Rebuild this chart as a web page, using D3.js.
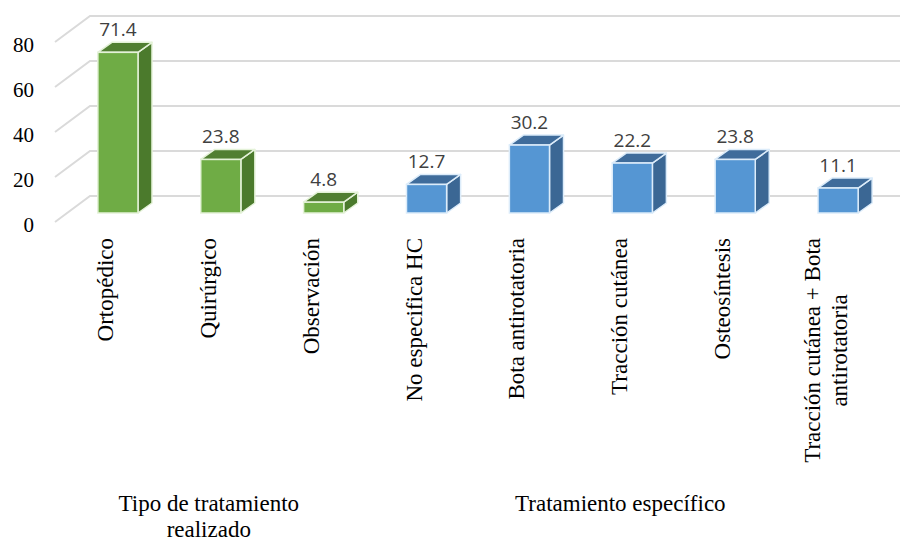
<!DOCTYPE html>
<html>
<head>
<meta charset="utf-8">
<script src="https://cdn.jsdelivr.net/npm/d3@7/dist/d3.min.js"></script>
</head>
<body style="margin:0; background:#fff">
<div class="chart"></div>
<script>
// 3D column chart: tratamiento

var svgWidth = 901;
var svgHeight = 542;

// data
var categories = ["Ortopédico", "Quirúrgico", "Observación", "No especifica HC",
  "Bota antirotatoria", "Tracción cutánea", "Osteosíntesis",
  "Tracción cutánea + Bota antirotatoria"];
var values = [71.4, 23.8, 4.8, 12.7, 30.2, 22.2, 23.8, 11.1];
var categoryGroup = [0, 0, 0, 1, 1, 1, 1, 1];
var groupLabels = [["Tipo de tratamiento", "realizado"], ["Tratamiento específico"]];
var yTicks = [0, 20, 40, 60, 80];

var serif = "'Liberation Serif'";
var sans = "'Open Sans'";

// colours per group: front, side, top, edge
var palette = [
  { front: "#6fac45", side: "#4b7a2c", top: "#517f32", edge: "#e4f2d8" },
  { front: "#5596d3", side: "#3b6794", top: "#3f6c9b", edge: "#dcecfa" }
];

// depth of the 3D floor (front -> back wall)
var wallDx = 35, wallDy = -26;
// bar depth
var barDx = 14, barDy = -10;
var barInset = 9; // bar front sits a bit behind the front edge

var svg = d3.select("body")
  .append("svg")
  .attr("width", svgWidth)
  .attr("height", svgHeight);

var x = d3.scaleBand()
  .domain(categories)
  .range([67, 889])
  .paddingInner(0.61)
  .paddingOuter(0.3);

var y = d3.scaleLinear()
  .domain([0, 80])
  .range([222, 42]);

// gridlines: side wall slant + back wall horizontal
var grid = svg.append("g");
yTicks.forEach(function(t) {
  var yf = y(t);
  grid.append("path")
    .attr("d", "M55," + yf + "L" + (55 + wallDx) + "," + (yf + wallDy) + "L900," + (yf + wallDy))
    .attr("fill", "none")
    .attr("stroke", "#dadada")
    .attr("stroke-width", 2);
});

// y tick labels
svg.append("g").selectAll("text")
  .data(yTicks)
  .enter()
  .append("text")
  .style("font-family", serif)
  .style("font-size", "21px")
  .attr("x", 34)
  .attr("y", d => y(d) + 10)
  .attr("text-anchor", "end")
  .text(d => d);

// bars
var bars = svg.append("g").selectAll("g")
  .data(values)
  .enter()
  .append("g");

bars.each(function(v, i) {
  var g = d3.select(this);
  var c = palette[categoryGroup[i]];
  var x0 = x(categories[i]);
  var x1 = x0 + x.bandwidth();
  var yb = y(0) - barInset;
  var yt = y(v) - barInset;

  // side face
  g.append("path")
    .attr("d", `M${x1},${yb}L${x1 + barDx},${yb + barDy}L${x1 + barDx},${yt + barDy}L${x1},${yt}Z`)
    .attr("fill", c.side)
    .attr("stroke", c.edge)
    .attr("stroke-width", 1.5)
    .attr("stroke-linejoin", "round");

  // top face
  g.append("path")
    .attr("d", `M${x0},${yt}L${x0 + barDx},${yt + barDy}L${x1 + barDx},${yt + barDy}L${x1},${yt}Z`)
    .attr("fill", c.top)
    .attr("stroke", c.edge)
    .attr("stroke-width", 1.5)
    .attr("stroke-linejoin", "round");

  // front face
  g.append("rect")
    .attr("x", x0)
    .attr("y", yt)
    .attr("width", x.bandwidth())
    .attr("height", yb - yt)
    .attr("fill", c.front)
    .attr("stroke", c.edge)
    .attr("stroke-width", 1.5);
});

// value labels
svg.append("g").selectAll("text")
  .data(values)
  .enter()
  .append("text")
  .style("font-family", sans)
  .style("font-size", "19px")
  .attr("fill", "#404040")
  .attr("x", (d, i) => x(categories[i]) + x.bandwidth() / 2)
  .attr("y", d => y(d) - barInset - 16)
  .attr("text-anchor", "middle")
  .text(d => d.toFixed(1));

// wrap text into lines no wider than maxW
function wrapLines(str, maxW) {
  var tmp = svg.append("text").style("font-family", serif).style("font-size", "23px");
  var words = str.split(" ");
  var lines = [];
  var line = [];
  words.forEach(function(w) {
    var test = line.concat([w]).join(" ");
    tmp.text(test);
    if (tmp.node().getComputedTextLength() > maxW && line.length) {
      lines.push(line.join(" "));
      line = [w];
    } else {
      line.push(w);
    }
  });
  lines.push(line.join(" "));
  var widths = lines.map(function(l) { tmp.text(l); return tmp.node().getComputedTextLength(); });
  tmp.remove();
  return { lines: lines, maxW: d3.max(widths) };
}

// category labels, rotated
var labelTop = 238;
var lineH = 27;
categories.forEach(function(cat, i) {
  var w = wrapLines(cat, 245);
  var cx = x(cat) + x.bandwidth() / 2 - 12;
  var cy = labelTop + w.maxW / 2;
  var n = w.lines.length;
  var t = svg.append("text")
    .style("font-family", serif)
    .style("font-size", "23px")
    .attr("text-anchor", "middle")
    .attr("transform", `translate(${cx},${cy})rotate(-90)`);
  w.lines.forEach(function(l, k) {
    t.append("tspan")
      .attr("x", 0)
      .attr("y", (k - (n - 1) / 2) * lineH + 7)
      .text(l);
  });
});

// group labels
groupLabels.forEach(function(lines, gi) {
  var idx = categoryGroup.map((g, i) => g === gi ? i : -1).filter(i => i >= 0);
  var first = x(categories[idx[0]]) + x.bandwidth() / 2;
  var last = x(categories[idx[idx.length - 1]]) + x.bandwidth() / 2;
  var cx = (first + last) / 2 - 12;
  var t = svg.append("text")
    .style("font-family", serif)
    .style("font-size", "23px")
    .attr("text-anchor", "middle");
  lines.forEach(function(l, k) {
    t.append("tspan")
      .attr("x", cx)
      .attr("y", 511 + k * 26)
      .text(l);
  });
});
</script>
</body>
</html>
